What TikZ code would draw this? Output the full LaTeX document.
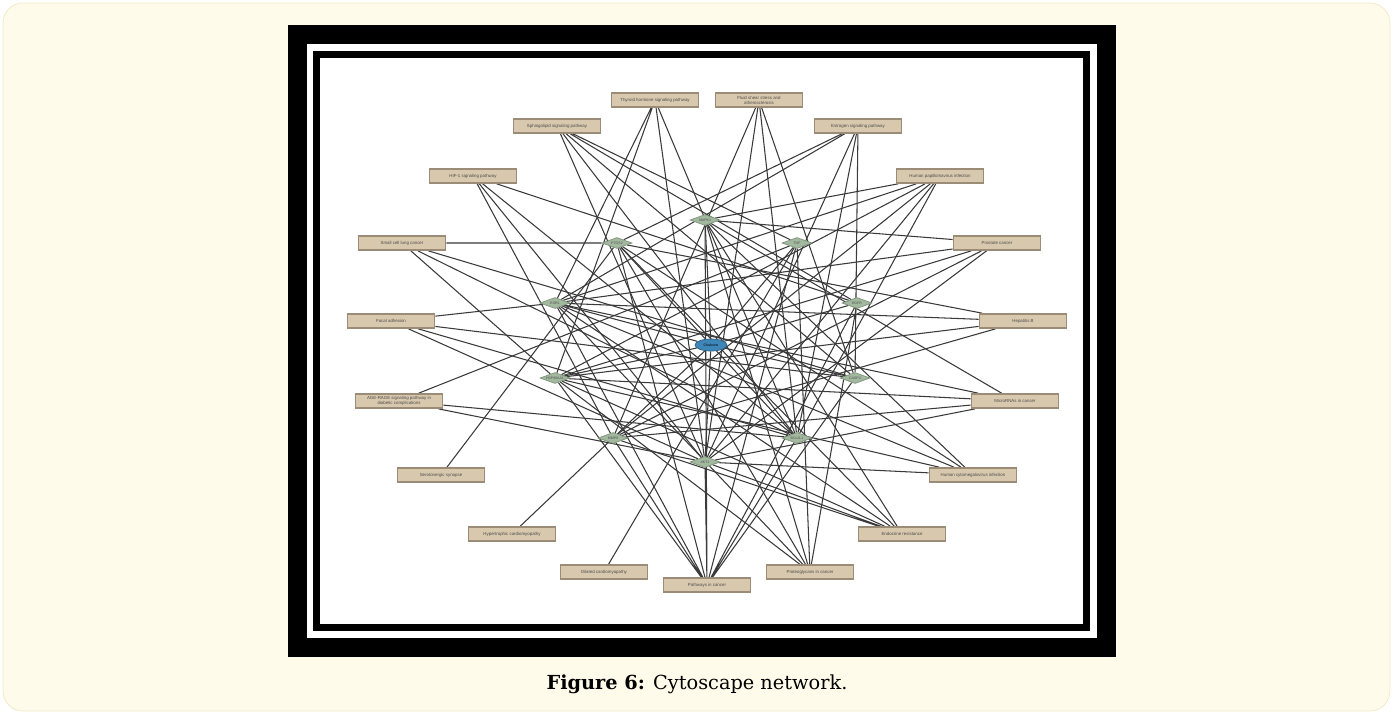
\documentclass[tikz,border=0pt]{standalone}
\usepackage{fontspec}
\setmainfont{Liberation Sans}
\newfontfamily\capfont{DejaVu Serif}
\usetikzlibrary{shapes.geometric}

\definecolor{creambg}{HTML}{FFFBEA}
\definecolor{creamline}{HTML}{F2E8C6}
\definecolor{pathfill}{HTML}{D8C8AD}
\definecolor{pathdraw}{HTML}{9A8C76}
\definecolor{genefill}{HTML}{A3B99F}
\definecolor{genedraw}{HTML}{7E9479}
\definecolor{cpdfill}{HTML}{3F86B8}
\definecolor{cpddraw}{HTML}{2A5E84}
\definecolor{edgecol}{HTML}{3A3A3A}

\pgfdeclarelayer{frame}
\pgfdeclarelayer{edges}
\pgfsetlayers{frame,edges,main}

\begin{document}
\begin{tikzpicture}[x=0.02cm, y=-0.02cm,
    pathbox/.style={rectangle, draw=pathdraw, line width=1pt, fill=pathfill,
        minimum width=1.74cm, minimum height=0.28cm, inner sep=0pt, text=black!70,
        font=\fontsize{2.5}{2.9}\selectfont, align=center},
    genenode/.style={diamond, aspect=2.8, draw=genedraw, fill=genefill,
        minimum width=0.6cm, minimum height=0.22cm, inner sep=0pt, text=black!70,
        font=\fontsize{2}{2.4}\selectfont},
    cpdnode/.style={ellipse, draw=cpddraw, fill=cpdfill, minimum width=0.64cm,
        minimum height=0.24cm, inner sep=0pt, font=\fontsize{2}{2.4}\selectfont},
    edge/.style={draw=edgecol, line width=0.6pt}]
    \useasboundingbox (0,0) rectangle (1393,714);

    % Page and frame
    \begin{pgfonlayer}{frame}
    \draw[fill=creambg, draw=creamline, rounded corners=0.4cm] (3,3) rectangle (1390,711);
    \fill[black] (288,25) rectangle (1116,657);
    \fill[white] (307,44) rectangle (1097,638);
    \fill[black] (313,51) rectangle (1090,631);
    \fill[white] (320,58) rectangle (1083,624);
    \end{pgfonlayer}

    % Pathways
    \node[pathbox] (thyroid) at (655,100) {Thyroid hormone signaling pathway};
    \node[pathbox] (fluid) at (759,100) {Fluid shear stress and\\atherosclerosis};
    \node[pathbox] (sphingo) at (557,126) {Sphingolipid signaling pathway};
    \node[pathbox] (estrogen) at (858,126) {Estrogen signaling pathway};
    \node[pathbox] (hif) at (473,176) {HIF-1 signaling pathway};
    \node[pathbox] (hpv) at (940,176) {Human papillomavirus infection};
    \node[pathbox] (sclc) at (402,243) {Small cell lung cancer};
    \node[pathbox] (prostate) at (997,243) {Prostate cancer};
    \node[pathbox] (focal) at (391,321) {Focal adhesion};
    \node[pathbox] (hepb) at (1023,321) {Hepatitis B};
    \node[pathbox] (agerage) at (399,401) {AGE-RAGE signaling pathway in\\diabetic complications};
    \node[pathbox] (mirna) at (1015,401) {MicroRNAs in cancer};
    \node[pathbox] (serot) at (441,475) {Serotonergic synapse};
    \node[pathbox] (hcmv) at (973,475) {Human cytomegalovirus infection};
    \node[pathbox] (hypertro) at (512,534) {Hypertrophic cardiomyopathy};
    \node[pathbox] (endocr) at (902,534) {Endocrine resistance};
    \node[pathbox] (dilated) at (604,572) {Dilated cardiomyopathy};
    \node[pathbox] (proteo) at (810,572) {Proteoglycans in cancer};
    \node[pathbox] (pathcan) at (707,585) {Pathways in cancer};

    % Targets
    \node[genenode] (mapk) at (705,220) {MAPK1};
    \node[genenode] (ptgs) at (617,243) {PTGS2};
    \node[genenode] (tnf) at (797,243) {TNF};
    \node[genenode] (esr) at (555,303) {ESR1};
    \node[genenode] (egfr) at (857,303) {EGFR};
    \node[genenode] (hsp) at (555,378) {HSP90AA1};
    \node[genenode] (casp) at (855,378) {CASP3};
    \node[genenode] (mmp) at (613,438) {MMP9};
    \node[genenode] (bcl) at (797,438) {BCL2L1};
    \node[genenode] (akt) at (705,462) {AKT1};

    % Compound
    \node[cpdnode] (cpd) at (711,345) {Chalcone};

    % Links
    \begin{pgfonlayer}{edges}
    \draw[edge] (cpd) -- (mapk) (cpd) -- (ptgs) (cpd) -- (tnf) (cpd) -- (esr) (cpd) -- (egfr)
        (cpd) -- (hsp) (cpd) -- (casp) (cpd) -- (mmp) (cpd) -- (bcl) (cpd) -- (akt);
    \draw[edge] (thyroid) -- (esr) (thyroid) -- (hsp) (thyroid) -- (akt) (thyroid) -- (bcl);
    \draw[edge] (fluid) -- (mmp) (fluid) -- (akt) (fluid) -- (bcl) (fluid) -- (casp);
    \draw[edge] (sphingo) -- (akt) (sphingo) -- (bcl) (sphingo) -- (casp) (sphingo) -- (egfr) (sphingo) -- (tnf);
    \draw[edge] (estrogen) -- (esr) (estrogen) -- (ptgs) (estrogen) -- (akt) (estrogen) -- (bcl) (estrogen) -- (casp);
    \draw[edge] (hif) -- (egfr) (hif) -- (bcl) (hif) -- (mmp) (hif) -- (akt);
    \draw[edge] (hpv) -- (mapk) (hpv) -- (esr) (hpv) -- (hsp) (hpv) -- (mmp) (hpv) -- (akt) (hpv) -- (bcl);
    \draw[edge] (sclc) -- (ptgs) (sclc) -- (casp) (sclc) -- (bcl) (sclc) -- (hsp);
    \draw[edge] (prostate) -- (mapk) (prostate) -- (hsp) (prostate) -- (mmp) (prostate) -- (akt) (prostate) -- (esr);
    \draw[edge] (focal) -- (esr) (focal) -- (casp) (focal) -- (bcl) (focal) -- (akt);
    \draw[edge] (hepb) -- (ptgs) (hepb) -- (esr) (hepb) -- (hsp) (hepb) -- (mmp);
    \draw[edge] (agerage) -- (tnf) (agerage) -- (bcl) (agerage) -- (akt);
    \draw[edge] (mirna) -- (mapk) (mirna) -- (esr) (mirna) -- (hsp) (mirna) -- (mmp) (mirna) -- (akt);
    \draw[edge] (serot) -- (ptgs);
    \draw[edge] (hcmv) -- (akt) (hcmv) -- (mapk) (hcmv) -- (ptgs) (hcmv) -- (esr) (hcmv) -- (hsp);
    \draw[edge] (hypertro) -- (mmp);
    \draw[edge] (endocr) -- (ptgs) (endocr) -- (esr) (endocr) -- (hsp) (endocr) -- (mmp) (endocr) -- (akt) (endocr) -- (mapk);
    \draw[edge] (dilated) -- (tnf);
    \draw[edge] (proteo) -- (ptgs) (proteo) -- (esr) (proteo) -- (hsp) (proteo) -- (mapk) (proteo) -- (tnf) (proteo) -- (egfr);
    \draw[edge] (pathcan) -- (mapk) (pathcan) -- (ptgs) (pathcan) -- (tnf) (pathcan) -- (esr) (pathcan) -- (egfr)
        (pathcan) -- (hsp) (pathcan) -- (casp) (pathcan) -- (mmp) (pathcan) -- (bcl) (pathcan) -- (akt);
    \end{pgfonlayer}

    % Caption
    \node[font=\capfont\fontsize{11}{13}\selectfont] (caption) at (697,684) {\textbf{Figure 6:} Cytoscape network.};
\end{tikzpicture}
\end{document}
